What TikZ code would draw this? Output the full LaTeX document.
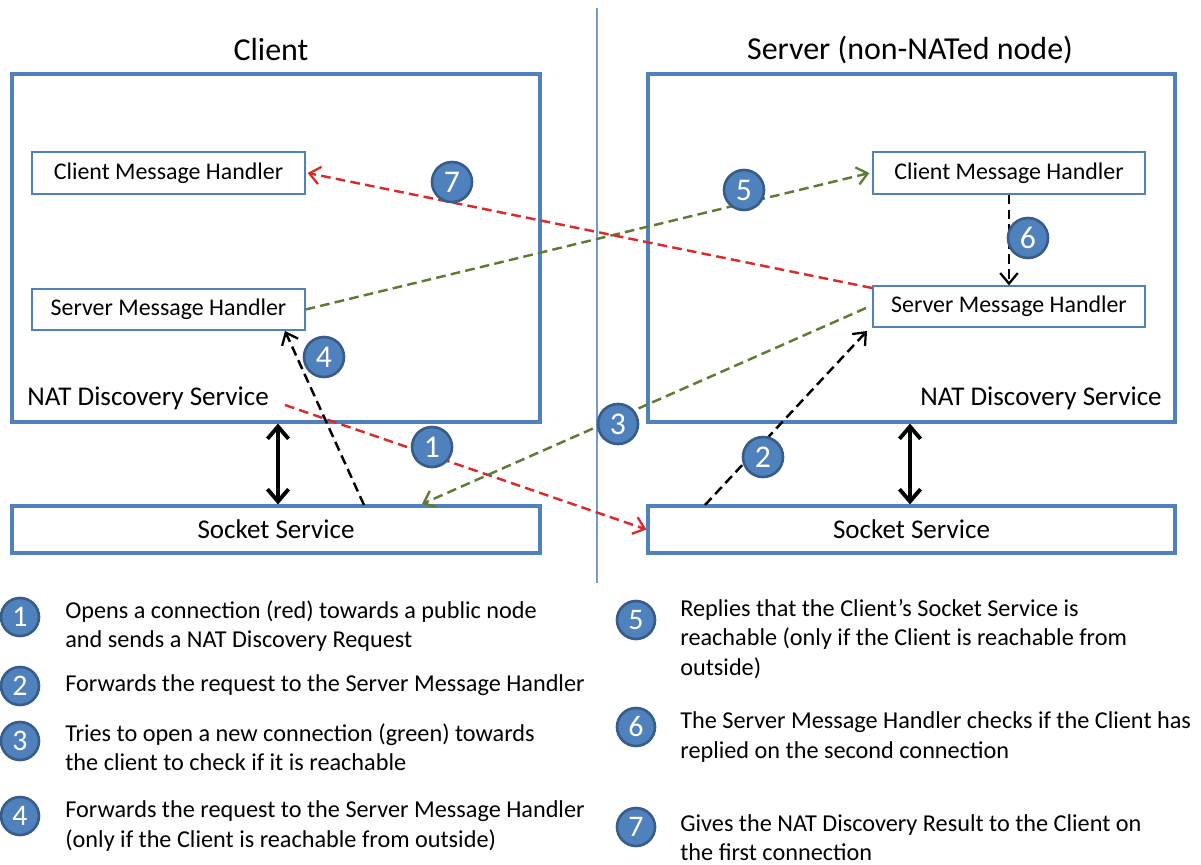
\documentclass[tikz,border=0pt]{standalone}
\usepackage{fontspec}
\setmainfont{Carlito}
\usetikzlibrary{arrows.meta,positioning}
\definecolor{boxblue}{HTML}{4F81BD}
\definecolor{circblue}{HTML}{4F81BD}
\definecolor{circedge}{HTML}{385D8A}
\definecolor{dred}{HTML}{DA2A2A}
\definecolor{dgreen}{HTML}{5F7A32}
\tikzset{
  outerbox/.style={draw=boxblue, line width=1.8pt, inner sep=0pt},
  innerbox/.style={draw=boxblue, line width=0.7pt, inner sep=0pt, fill=white, font=\fontsize{13.6}{16}\selectfont},
  sockbox/.style={draw=boxblue, line width=1.8pt, inner sep=0pt, font=\fontsize{15.4}{18}\selectfont},
  title/.style={font=\fontsize{18.2}{22}\selectfont, inner sep=0pt},
  svc/.style={font=\fontsize{15.4}{18}\selectfont, inner sep=0pt},
  num/.style={circle, fill=circblue, draw=circedge, line width=1.5pt, minimum size=40*0.02cm, inner sep=0pt, text=white, font=\fontsize{18}{20}\selectfont},
  lnum/.style={circle, fill=circblue, draw=circedge, line width=1.5pt, minimum size=38*0.02cm, inner sep=0pt, text=white, font=\fontsize{17}{19}\selectfont},
  legend/.style={anchor=west, align=left, inner sep=0pt, font=\fontsize{13.8}{16.6}\selectfont},
  dashline/.style={line width=1.4pt, dash pattern=on 5.5pt off 3pt, -{Straight Barb[length=6pt,width=10pt,line width=1.3pt]}},
  reddash/.style={dashline, draw=dred},
  greendash/.style={dashline, draw=dgreen},
  blackdash/.style={dashline, draw=black},
  dblarrow/.style={draw=black, line width=2.2pt, {Straight Barb[length=7pt,width=12pt,line width=2.2pt]}-{Straight Barb[length=7pt,width=12pt,line width=2.2pt]}},
}
\begin{document}
\begin{tikzpicture}[x=0.02cm, y=-0.02cm]
\useasboundingbox (0,0) rectangle (1201,865);
% divider
\coordinate (divtop) at (597,8);
\coordinate (divbot) at (597,583);
\draw[boxblue!80, line width=0.6pt] (divtop) -- (divbot);
% titles
\node[title] (ctitle) at (271,50) {Client};
\node[title] (stitle) at (910,50) {Server (non-NATed node)};
% outer boxes
\node[outerbox, minimum width=528*0.02cm, minimum height=348*0.02cm] (cbox) at (276,248) {};
\node[outerbox, minimum width=527*0.02cm, minimum height=348*0.02cm] (sbox) at (911.5,248) {};
% inner boxes
\node[innerbox, minimum width=273*0.02cm, minimum height=42*0.02cm] (ccmh) at (168.5,173) {Client Message Handler};
\node[innerbox, minimum width=273*0.02cm, minimum height=41*0.02cm] (csmh) at (168.5,309.5) {Server Message Handler};
\node[innerbox, minimum width=272*0.02cm, minimum height=42*0.02cm] (scmh) at (1009,173) {Client Message Handler};
\node[innerbox, minimum width=272*0.02cm, minimum height=41*0.02cm] (ssmh) at (1009,306.5) {Server Message Handler};
% service labels
\node[svc, anchor=west] (cnat) at (27,398) {NAT Discovery Service};
\node[svc, anchor=east] (snat) at (1162,398) {NAT Discovery Service};
% socket boxes
\node[sockbox, minimum width=528*0.02cm, minimum height=47*0.02cm] (csock) at (276,529.5) {Socket Service};
\node[sockbox, minimum width=527*0.02cm, minimum height=47*0.02cm] (ssock) at (911.5,529.5) {Socket Service};
% double arrows
\draw[dblarrow] (cbox.south -| 278,0) -- (csock.north -| 278,0);
\draw[dblarrow] (sbox.south -| 910,0) -- (ssock.north -| 910,0);
% connector endpoints
\coordinate (a1s) at (285,405);
\coordinate (a2s) at (705,505);
\coordinate (a2e) at (867,331);
\coordinate (a3e) at (422,504);
\coordinate (a4s) at (364,505);
\coordinate (a4e) at (285,331);
\coordinate (a3s) at (866,308);
\coordinate (a7s) at (872,288);
% arrows
\draw[reddash] (a1s) -- (ssock.west);
\draw[blackdash] (a2s) -- (a2e);
\draw[greendash] (a3s) -- (a3e);
\draw[blackdash] (a4s) -- (a4e);
\draw[greendash] (csmh.east) -- ([xshift=-3*0.02cm]scmh.west);
\draw[blackdash] (scmh.south) -- (ssmh.north);
\draw[reddash] (a7s) -- ([xshift=2*0.02cm]ccmh.east);
% numbered circles
\node[num] (n1) at (432,447) {1};
\node[num] (n2) at (763,457) {2};
\node[num] (n3) at (618,424) {3};
\node[num] (n4) at (324,357) {4};
\node[num] (n5) at (744,190) {5};
\node[num] (n6) at (1028,238) {6};
\node[num] (n7) at (452,182) {7};
% legend
\node[lnum] (l1) at (20,617) {1};
\node[legend] (t1) at (65,626) {Opens a connection (red) towards a public node\\and sends a NAT Discovery Request};
\node[lnum] (l2) at (20,686) {2};
\node[legend] (t2) at (65,685) {Forwards the request to the Server Message Handler};
\node[lnum] (l3) at (20,741) {3};
\node[legend] (t3) at (65,747) {Tries to open a new connection (green) towards\\the client to check if it is reachable};
\node[lnum] (l4) at (20,816) {4};
\node[legend] (t4) at (65,826) {Forwards the request to the Server Message Handler\\(only if the Client is reachable from outside)};
\node[lnum] (l5) at (636,620) {5};
\node[legend] (t5) at (680,639) {Replies that the Client’s Socket Service is\\reachable (only if the Client is reachable from\\outside)};
\node[lnum] (l6) at (636,727) {6};
\node[legend] (t6) at (680,737) {The Server Message Handler checks if the Client has\\replied on the second connection};
\node[lnum] (l7) at (636,827) {7};
\node[legend] (t7) at (680,838) {Gives the NAT Discovery Result to the Client on\\the first connection};
\end{tikzpicture}
\end{document}
